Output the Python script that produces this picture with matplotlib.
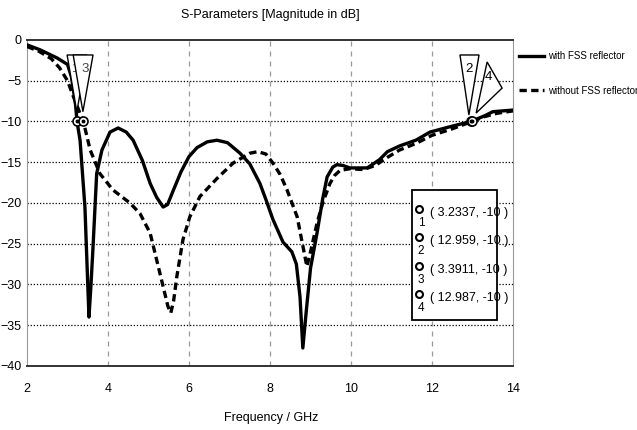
import matplotlib.pyplot as plt
from matplotlib.patches import Polygon, Rectangle

plt.rcParams['font.family'] = ['Liberation Sans', 'DejaVu Sans']

# S11 with FSS reflector
freq_with = [2.0, 2.32, 2.74, 3.0, 3.1, 3.2, 3.2337, 3.31, 3.43, 3.5, 3.53, 3.58, 3.63,
             3.72, 3.85, 4.05, 4.25, 4.45, 4.62, 4.85, 5.04, 5.2, 5.36, 5.47, 5.6, 5.8,
             6.0, 6.2, 6.45, 6.69, 6.95, 7.26, 7.5, 7.75, 7.9, 8.07, 8.32, 8.54, 8.65,
             8.74, 8.81, 8.9, 9.0, 9.16, 9.3, 9.41, 9.55, 9.65, 9.8, 9.97, 10.4, 10.7,
             10.9, 11.2, 11.6, 11.95, 12.4, 12.959, 13.3, 13.5, 13.75, 14.0]
s11_with = [-0.6, -1.2, -2.2, -3.0, -4.6, -8.0, -10.0, -12.3, -20.5, -30.0, -34.0, -30.0, -25.4,
            -16.4, -13.5, -11.3, -10.8, -11.3, -12.3, -14.8, -17.6, -19.3, -20.5, -20.2, -18.6, -16.2,
            -14.3, -13.2, -12.5, -12.3, -12.6, -13.9, -15.2, -17.6, -19.6, -22.0, -24.8, -26.0, -27.5,
            -31.5, -37.8, -33.0, -28.0, -23.7, -19.5, -16.8, -15.6, -15.3, -15.4, -15.7, -15.7, -14.7,
            -13.7, -13.0, -12.3, -11.3, -10.7, -10.0, -9.3, -8.8, -8.7, -8.6]

# S11 without FSS reflector
freq_without = [2.0, 2.3, 2.6, 2.8, 3.0, 3.15, 3.3, 3.3911, 3.56, 3.8, 4.12, 4.54, 4.79,
                5.04, 5.28, 5.48, 5.55, 5.62, 5.7, 5.85, 6.02, 6.27, 6.69, 7.09, 7.5,
                7.7, 7.9, 8.07, 8.25, 8.42, 8.67, 8.8, 8.91, 9.0, 9.16, 9.3, 9.48, 9.6,
                9.73, 9.97, 10.3, 10.6, 10.9, 11.2, 11.6, 12.0, 12.5, 12.987, 13.3, 13.6, 14.0]
s11_without = [-0.8, -1.4, -2.3, -3.4, -5.0, -7.0, -8.9, -10.0, -13.5, -16.4, -18.4, -20.0, -21.3,
               -23.7, -28.6, -32.7, -33.5, -32.0, -29.0, -24.5, -21.7, -19.2, -17.0, -15.1, -13.9,
               -13.7, -14.0, -15.1, -16.5, -18.4, -21.7, -25.0, -27.8, -26.0, -22.5, -20.0, -17.6, -16.6,
               -16.0, -15.8, -15.9, -15.4, -14.4, -13.5, -12.7, -11.7, -10.9, -10.0, -9.4, -9.0, -8.7]

# marker readouts
marker_ids = ['1', '2', '3', '4']
marker_f = [3.2337, 12.959, 3.3911, 12.987]
marker_db = [-10, -10, -10, -10]

fig = plt.figure(figsize=(6.37, 4.30), dpi=100)
ax = fig.add_axes([0.0424, 0.149, 0.763, 0.758])

ax.plot(freq_with, s11_with, color='black', lw=2.4, solid_joinstyle='round',
        label='with FSS reflector', zorder=3)
ax.plot(freq_without, s11_without, color='black', lw=2.4, ls=(0, (2.2, 1.3)),
        label='without FSS reflector', zorder=3)

ax.set_xlim(2, 14)
ax.set_ylim(-40, 0)
ax.set_xticks(range(2, 15, 2))
ax.set_yticks(range(-40, 1, 5))
ax.tick_params(labelsize=9, length=0, pad=4)
ax.tick_params(axis='x', pad=12)

# grid: dotted horizontal, dashed grey vertical
for y in range(-35, 0, 5):
    ax.axhline(y, color='black', lw=0.9, ls=(0, (1, 1.5)), zorder=1)
for x in range(4, 14, 2):
    ax.axvline(x, color='#999999', lw=0.9, ls=(0, (4, 4)), zorder=1)

for side in ['left', 'right']:
    ax.spines[side].set_color('#999999')
for side in ['top', 'bottom']:
    ax.spines[side].set_color('#333333')
    ax.spines[side].set_linewidth(1.4)

# marker flags; each label sits under the next flag so "1" is mostly hidden by "3"
flags = [
    ('1', [(2.99, -1.84), (3.48, -1.84), (3.23, -8.8)], (3.2, -3.6)),
    ('3', [(3.14, -1.84), (3.63, -1.84), (3.38, -8.8)], (3.43, -3.6)),
    ('2', [(12.69, -1.84), (13.16, -1.84), (12.91, -9.2)], (12.92, -3.6)),
    ('4', [(13.36, -2.7), (13.73, -5.9), (13.09, -8.96)], (13.38, -4.6)),
]
for i, (key, pts, pos) in enumerate(flags):
    z = 4 + 2 * i
    ax.add_patch(Polygon(pts, closed=True, fc='white', ec='black', lw=1.0, zorder=z))
    ax.text(pos[0], pos[1], key, fontsize=9.5, ha='center', va='center', zorder=z + 1,
            color='#444444' if key in ('1', '3') else 'black')

ax.plot(marker_f, marker_db, ls='none', marker='o', ms=6.5, mfc='white', mec='black',
        mew=1.2, zorder=14)
ax.plot(marker_f, marker_db, ls='none', marker='o', ms=1.8, color='black', zorder=15)

# marker value box
ax.add_patch(Rectangle((0.792, 0.141), 0.175, 0.399, transform=ax.transAxes,
                       fc='white', ec='black', lw=1.3, zorder=16))
row_y = [0.469, 0.383, 0.294, 0.209]
for mid, f, d, yy in zip(marker_ids, marker_f, marker_db, row_y):
    ax.plot([0.807], [yy + 0.012], marker='o', ms=5, mfc='white', mec='black', mew=1.5,
            transform=ax.transAxes, zorder=17, clip_on=False)
    ax.text(0.811, yy - 0.03, mid, transform=ax.transAxes, fontsize=8.5,
            ha='center', va='center', zorder=17)
    ax.text(0.83, yy, f'( {f:g}, {d} )', transform=ax.transAxes, fontsize=9,
            ha='left', va='center', zorder=17)

fig.text(0.425, 0.965, 'S-Parameters [Magnitude in dB]', ha='center', va='center', fontsize=9)
fig.text(0.425, 0.028, 'Frequency / GHz', ha='center', va='center', fontsize=9)

fig.legend(loc='upper left', bbox_to_anchor=(0.812, 0.885), frameon=False, fontsize=7,
           handlelength=2.6, handletextpad=0.35, labelspacing=2.5, borderaxespad=0,
           borderpad=0.2)

fig.savefig('out.png', dpi=100)
